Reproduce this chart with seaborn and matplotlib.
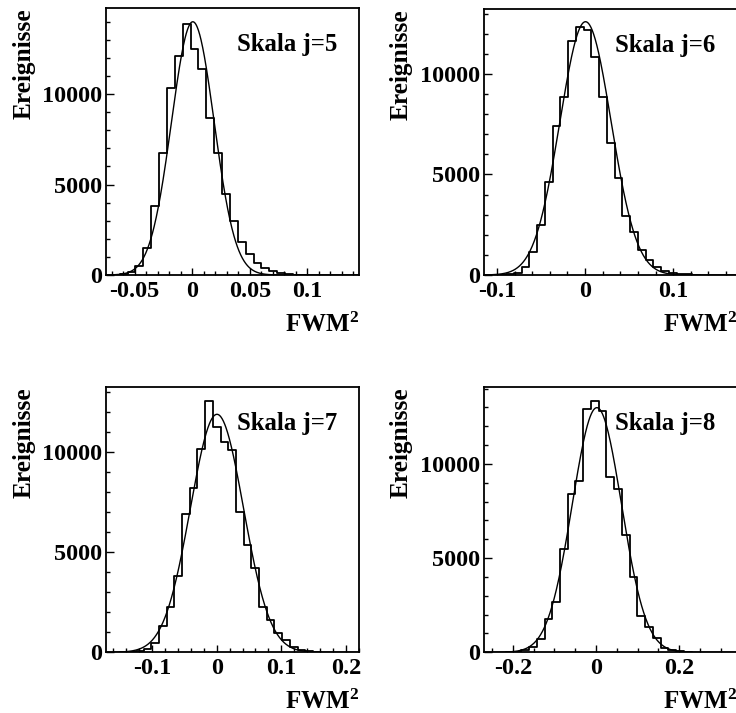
import numpy as np
import pandas as pd
import matplotlib
matplotlib.use("Agg")
import matplotlib.pyplot as plt
import seaborn as sns
from matplotlib.ticker import MultipleLocator

# ---------------- data ----------------
titles = ["Skala j=5", "Skala j=6", "Skala j=7", "Skala j=8"]

# histogram bin edges: first edge and bin width, plus bin contents
bin_start = [-0.0700, -0.0984, -0.1487, -0.2168]
bin_width = [0.00685, 0.0088, 0.0119, 0.0186]

counts_j5 = [20, 55, 185, 498, 1476, 3838, 6734, 10332, 12122, 13893, 12491,
             11402, 8672, 6734, 4465, 3007, 1845, 1162, 646, 406, 240, 130,
             55, 20, 8]
counts_j6 = [20, 50, 116, 415, 1128, 2488, 4643, 7413, 8872, 11658, 12322,
             12189, 10829, 8872, 6551, 4809, 2935, 2123, 1244, 746, 415, 216,
             116, 60, 30, 10]
counts_j7 = [10, 30, 80, 150, 450, 1333, 2283, 3817, 6917, 8200, 10150, 12583,
             11250, 10500, 10117, 7033, 5367, 4200, 2283, 1617, 950, 600, 283,
             117, 50, 15]
counts_j8 = [15, 40, 124, 265, 690, 1752, 2655, 5469, 8389, 9097, 12903, 13363,
             12832, 9292, 8655, 6230, 3982, 1947, 1327, 743, 250, 124, 50, 20]
counts = [counts_j5, counts_j6, counts_j7, counts_j8]

# Gaussian fit parameters: amplitude, mean, sigma
fit_amp = [14000, 12600, 11900, 12990]
fit_mean = [0.0005, 0.0005, 0.0005, 0.002]
fit_sigma = [0.0185, 0.029, 0.041, 0.059]

x_limits = [(-0.075, 0.145), (-0.115, 0.172), (-0.171, 0.22), (-0.27, 0.338)]
y_top = [14760, 13217, 13250, 14070]

x_major = [[-0.05, 0, 0.05, 0.1], [-0.1, 0, 0.1], [-0.1, 0, 0.1, 0.2], [-0.2, 0, 0.2]]
x_major_labels = [["-0.05", "0", "0.05", "0.1"], ["-0.1", "0", "0.1"],
                  ["-0.1", "0", "0.1", "0.2"], ["-0.2", "0", "0.2"]]
x_minor = [0.01, 0.02, 0.02, 0.05]

y_major = [0, 5000, 10000]
y_major_labels = ["0", "5000", "10000"]
y_minor = 1000

x_label = r"FWM$^{\mathbf{2}}$"
y_label = "Ereignisse"

# ---------------- style ----------------
sns.set_style("ticks")
plt.rcParams.update({
    "font.family": ["Liberation Serif", "DejaVu Serif"],
    "font.weight": "bold",
    "font.size": 17.5,
    "text.color": "black",
    "axes.labelcolor": "black",
    "axes.unicode_minus": False,
    "axes.linewidth": 1.3,
    "axes.edgecolor": "black",
    "xtick.direction": "in",
    "ytick.direction": "in",
    "xtick.color": "black",
    "ytick.color": "black",
    "xtick.labelcolor": "black",
    "ytick.labelcolor": "black",
    "xtick.top": False,
    "ytick.right": False,
    "mathtext.fontset": "custom",
    "mathtext.rm": "Liberation Serif:bold",
    "mathtext.bf": "Liberation Serif:bold",
    "mathtext.it": "Liberation Serif:bold",
})

W, H = 736, 713
fig = plt.figure(figsize=(W / 100, H / 100), dpi=100)

# axes boxes in pixels: left, top, width, bottom
boxes_px = [(106, 8, 253, 275), (483.7, 9.3, 253, 275),
            (106, 387.3, 253, 652.3), (483.7, 387.3, 253, 652.3)]

FS = 17.5
for i in range(4):
    l, t, w, b = boxes_px[i]
    ax = fig.add_axes([l / W, (H - b) / H, w / W, (b - t) / H])
    n = len(counts[i])
    edges = [bin_start[i] + bin_width[i] * k for k in range(n + 1)]
    centers = [0.5 * (edges[k] + edges[k + 1]) for k in range(n)]
    df = pd.DataFrame({"x": centers, "w": counts[i]})
    sns.histplot(data=df, x="x", weights="w", bins=edges, element="step",
                 fill=False, color="black", linewidth=1.3, ax=ax)
    xs = np.linspace(x_limits[i][0], x_limits[i][1], 600)
    ys = fit_amp[i] * np.exp(-0.5 * ((xs - fit_mean[i]) / fit_sigma[i]) ** 2)
    sns.lineplot(x=xs, y=ys, color="black", linewidth=1.0, ax=ax)

    ax.set_xlim(*x_limits[i])
    ax.set_ylim(0, y_top[i])
    ax.set_xticks(x_major[i], x_major_labels[i])
    ax.set_yticks(y_major, y_major_labels)
    ax.xaxis.set_minor_locator(MultipleLocator(x_minor[i]))
    ax.yaxis.set_minor_locator(MultipleLocator(y_minor))
    ax.tick_params(axis="x", which="major", length=5, width=1.0, pad=4,
                   labelsize=FS)
    ax.tick_params(axis="y", which="major", length=6, width=1.0, pad=2.5,
                   labelsize=FS)
    ax.tick_params(which="minor", length=2.8, width=1.0)
    for lab in ax.get_xticklabels() + ax.get_yticklabels():
        lab.set_fontweight("bold")
        lab.set_color("black")
    ax.set_xlabel("")
    ax.set_ylabel("")
    for sp in ax.spines.values():
        sp.set_linewidth(1.3)
        sp.set_color("black")

    ax.text(0.518, 0.84, titles[i], transform=ax.transAxes, ha="left",
            va="baseline", fontsize=FS + 0.3, fontweight="bold", color="black")
    ax.text(1.0, -0.215, x_label, transform=ax.transAxes, ha="right",
            va="baseline", fontsize=FS + 0.5, fontweight="bold", color="black")
    ax.text(-0.325, 1.0, y_label, transform=ax.transAxes, rotation=90,
            ha="center", va="top", fontsize=FS + 0.8, fontweight="bold",
            color="black")

fig.savefig("out.png", dpi=100)
